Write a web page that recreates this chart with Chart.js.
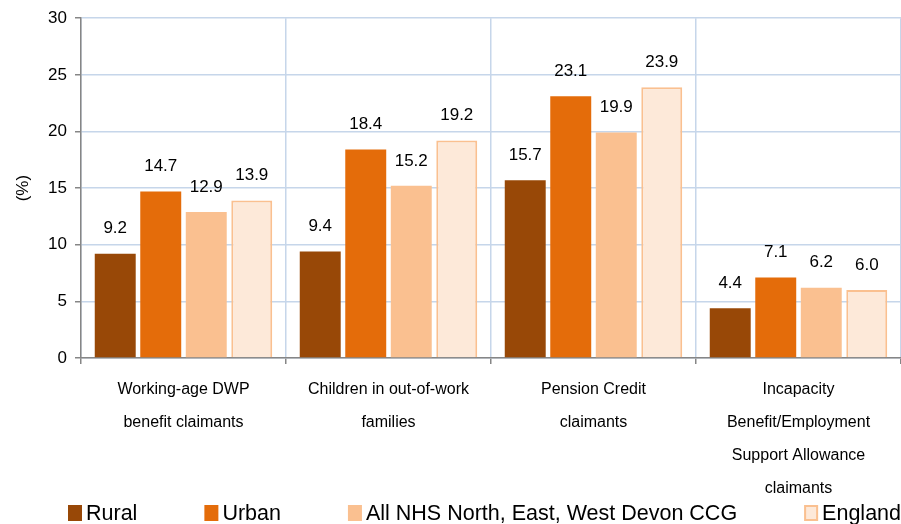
<!DOCTYPE html>
<html>
<head>
<meta charset="utf-8">
<script src="https://cdn.jsdelivr.net/npm/chart.js@4/dist/chart.umd.min.js"></script>
<style>
html,body{margin:0;padding:0;background:#fff;}
#wrap{width:901px;height:524px;}
</style>
</head>
<body>
<div id="wrap"><canvas id="c" width="901" height="524"></canvas></div>
<script>
const categories = [
  ["Working-age DWP", "benefit claimants"],
  ["Children in out-of-work", "families"],
  ["Pension Credit", "claimants"],
  ["Incapacity", "Benefit/Employment", "Support Allowance", "claimants"]
];
const seriesNames = ["Rural", "Urban", "All NHS North, East, West Devon CCG", "England"];
const rural = [9.2, 9.4, 15.7, 4.4];
const urban = [14.7, 18.4, 23.1, 7.1];
const allCCG = [12.9, 15.2, 19.9, 6.2];
const england = [13.9, 19.2, 23.9, 6.0];
const yTicks = [0, 5, 10, 15, 20, 25, 30];

const FONT = '"Liberation Sans", Arial, sans-serif';
const GRID = '#C6D6EA';
const AXIS = '#868686';

const fills = ['#984807', '#E46C0A', '#FAC090', '#FDE9D9'];
const borders = ['#984807', '#E46C0A', '#FAC090', '#FAC090'];
const bw = [0, 0, 0, 2];

const valueLabels = {
  id: 'valueLabels',
  afterDatasetsDraw(chart) {
    const ctx = chart.ctx;
    ctx.save();
    ctx.font = '17px ' + FONT;
    ctx.fillStyle = '#000';
    ctx.textAlign = 'center';
    ctx.textBaseline = 'middle';
    chart.data.datasets.forEach((ds, i) => {
      const meta = chart.getDatasetMeta(i);
      meta.data.forEach((bar, j) => {
        ctx.fillText(ds.data[j].toFixed(1), bar.x, bar.y - 25);
      });
    });
    ctx.restore();
  }
};

const customLegend = {
  id: 'customLegend',
  afterDraw(chart) {
    const ctx = chart.ctx;
    ctx.save();
    ctx.font = '21.5px ' + FONT;
    ctx.textBaseline = 'middle';
    ctx.textAlign = 'left';
    let x = chart.chartArea.left - 13;
    const yc = 513;
    chart.data.datasets.forEach((ds) => {
      ctx.fillStyle = ds.backgroundColor;
      ctx.fillRect(x, yc - 8, 14, 16);
      if (ds.borderWidth) {
        ctx.strokeStyle = ds.borderColor;
        ctx.lineWidth = 2;
        ctx.strokeRect(x + 1, yc - 7, 12, 14);
      }
      ctx.fillStyle = '#000';
      ctx.fillText(ds.label, x + 18, yc + 1);
      x += 18 + ctx.measureText(ds.label).width + 67;
    });
    ctx.restore();
  }
};

const series = [rural, urban, allCCG, england];
new Chart(document.getElementById('c'), {
  type: 'bar',
  data: {
    labels: categories,
    datasets: series.map((d, i) => ({
      label: seriesNames[i],
      data: d,
      backgroundColor: fills[i],
      borderColor: borders[i],
      borderWidth: bw[i],
      categoryPercentage: 0.888,
      barPercentage: 0.9
    }))
  },
  options: {
    responsive: false,
    animation: false,
    layout: { padding: { top: 16, right: 0, bottom: 23, left: 0 } },
    plugins: {
      legend: { display: false },
      tooltip: { enabled: false }
    },
    scales: {
      x: {
        grid: { offset: true, color: GRID, lineWidth: 1.5, tickColor: AXIS, tickLength: 6, drawTicks: true },
        border: { color: AXIS, width: 1.5 },
        ticks: { color: '#000', font: { family: FONT, size: 16, lineHeight: 2.06 }, padding: 9, maxRotation: 0, autoSkip: false },
        afterFit(s) { s.height = 143; }
      },
      y: {
        min: 0, max: 30,
        afterBuildTicks(s) { s.ticks = yTicks.map(v => ({ value: v })); },
        grid: { color: GRID, lineWidth: 1.5, tickColor: AXIS, tickLength: 6 },
        border: { color: AXIS, width: 1.5 },
        ticks: { color: '#000', font: { family: FONT, size: 17 }, padding: 8 },
        title: { display: true, text: '(%)', color: '#000', font: { family: FONT, size: 17 }, padding: { top: 13, bottom: 4 } },
        afterFit(s) { s.width = 81; }
      }
    }
  },
  plugins: [valueLabels, customLegend]
});
</script>
</body>
</html>
